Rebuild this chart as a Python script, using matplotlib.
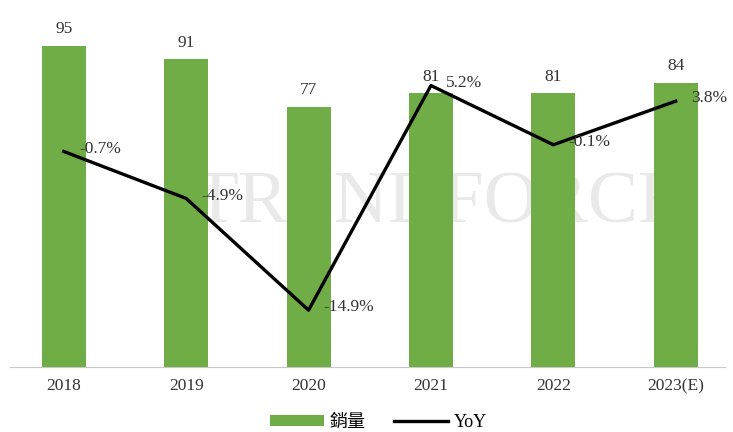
import matplotlib.pyplot as plt

years = ['2018', '2019', '2020', '2021', '2022', '2023(E)']
sales = [95, 91, 77, 81, 81, 84]
yoy = [-0.7, -4.9, -14.9, 5.2, -0.1, 3.8]

plt.rcParams['font.family'] = ['Liberation Serif', 'Noto Sans CJK TC']

fig = plt.figure(figsize=(7.33, 4.32), dpi=100)
ax = fig.add_axes([0.0136, 0.150, 0.975, 0.815])
x = range(len(years))

ax.bar(x, sales, width=0.36, color='#70ad47', label='銷量', zorder=2)
for i, v in enumerate(sales):
    ax.annotate(str(v), (i, v), xytext=(0, 6), textcoords='offset points',
                ha='center', va='bottom', fontsize=12.5, color='#333333')

ax.set_ylim(0, 104)
ax.set_xlim(-0.44, 5.4)
ax.set_xticks(list(x))
ax.set_xticklabels(years, fontsize=12.5, color='#333333')
ax.tick_params(axis='x', length=0, pad=8)
ax.set_yticks([])
for s in ['top', 'right', 'left']:
    ax.spines[s].set_visible(False)
ax.spines['bottom'].set_color('#c8c8c8')
ax.spines['bottom'].set_zorder(1)

# faint watermark
ax.text(0.6, 0.46, 'TRENDFORCE', transform=ax.transAxes, ha='center', va='center',
        fontsize=54, color='#d8d8d8', alpha=0.55, zorder=1)

ax2 = ax.twinx()
ax2.plot(x, yoy, color='black', lw=2.4, label='YoY', zorder=3)
for i, v in enumerate(yoy):
    ax2.annotate(f'{v}%', (i, v), xytext=(11, 2), textcoords='offset points',
                 ha='left', va='center', fontsize=12.5, color='#333333')
ax2.set_ylim(-20, 11.5)
ax2.set_yticks([])
for s in ['top', 'right', 'left', 'bottom']:
    ax2.spines[s].set_visible(False)

h1, l1 = ax.get_legend_handles_labels()
h2, l2 = ax2.get_legend_handles_labels()
fig.legend(h1 + h2, l1 + l2, loc='center', bbox_to_anchor=(0.516, 0.022), ncol=2,
           frameon=False, fontsize=13, handlelength=3.0, handleheight=0.5,
           columnspacing=1.6, handletextpad=0.3)

fig.savefig('out.png', dpi=100)
